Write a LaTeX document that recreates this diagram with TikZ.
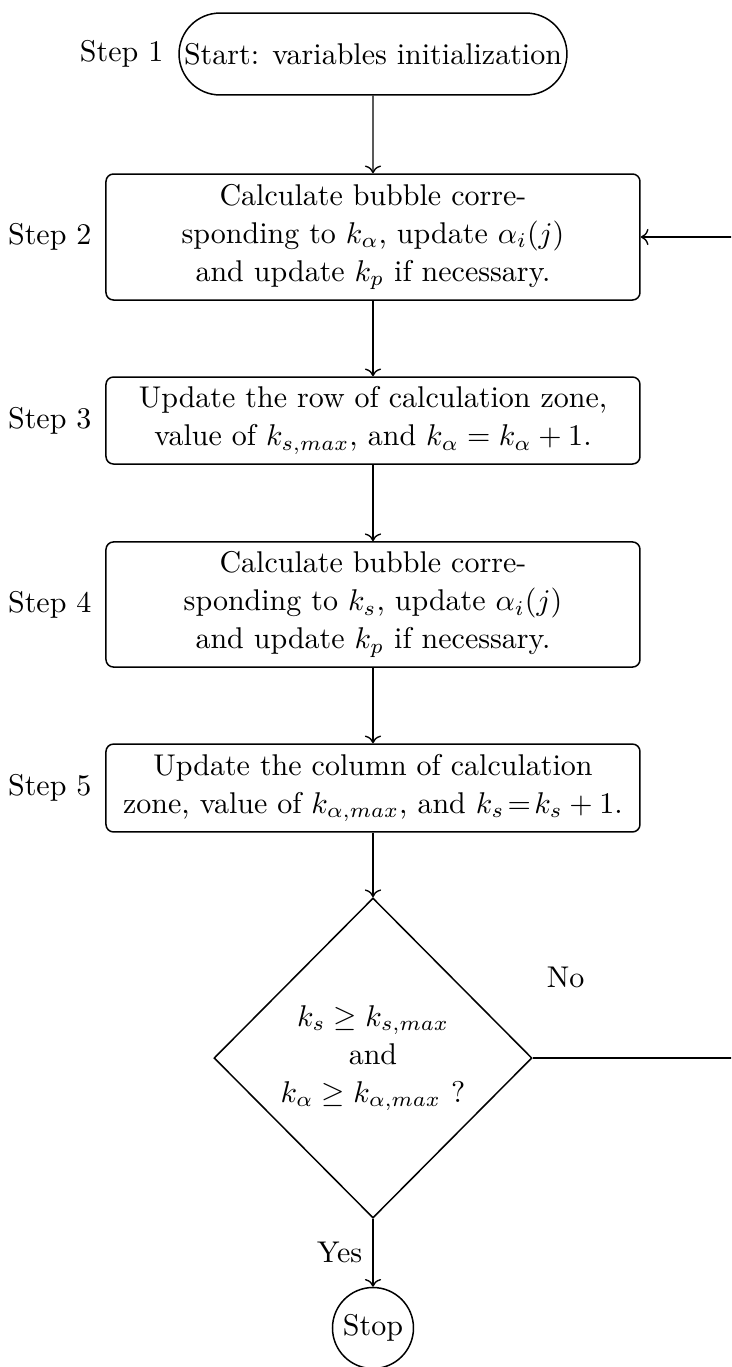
\documentclass[tikz,border=0pt]{standalone}
\usetikzlibrary{shapes.misc,shapes.geometric,arrows.meta,calc}
\begin{document}
\begin{tikzpicture}[
  every node/.style={font=\fontsize{10}{12.67}\selectfont},
  terminal/.style={draw, rounded rectangle, line width=0.5pt, minimum width=133.3pt, minimum height=27.3pt, inner sep=2pt},
  procbox/.style={draw, rectangle, rounded corners=2.5pt, line width=0.5pt, minimum width=178pt, align=center, inner sep=2pt},
  decision/.style={draw, diamond, line width=0.5pt, minimum width=106pt, minimum height=106.7pt, inner sep=0pt, align=center},
  stopnode/.style={draw, circle, line width=0.5pt, minimum size=27pt, inner sep=1pt},
  steplabel/.style={anchor=east, inner sep=0pt},
  flow/.style={->, line width=0.45pt}
]
\useasboundingbox (0,0) rectangle (243.67pt,-455.67pt);
\clip (0,0) rectangle (243.67pt,-455.67pt);

\node[terminal] (start) at (124.33pt,-18pt) {Start: variables initialization};
\node[procbox, minimum height=42pt] (s2) at (124.33pt,-79pt)
  {Calculate bubble corre-\\sponding to $k_\alpha$, update $\alpha_i(j)$\\and update $k_p$ if necessary.};
\node[procbox, minimum height=29pt] (s3) at (124.33pt,-140.17pt)
  {Update the row of calculation zone,\\value of $k_{s,max}$, and $k_\alpha = k_\alpha + 1$.};
\node[procbox, minimum height=41.7pt] (s4) at (124.33pt,-201.5pt)
  {Calculate bubble corre-\\sponding to $k_s$, update $\alpha_i(j)$\\and update $k_p$ if necessary.};
\node[procbox, minimum height=29.3pt] (s5) at (124.33pt,-262.67pt)
  {Update the column of calculation\\zone, value of $k_{\alpha,max}$, and $k_s\!=\!k_s + 1$.};
\node[decision] (dec) at (124.33pt,-352.67pt)
  {$k_s \geq k_{s,max}$\\and\\$k_\alpha \geq k_{\alpha,max}$ ?};
\node[stopnode] (stop) at (124.33pt,-442.67pt) {Stop};

\node[steplabel] (l1) at ([xshift=-4.8pt]start.west) {Step 1};
\node[steplabel] (l2) at ([xshift=-4.4pt]s2.west) {Step 2};
\node[steplabel] (l3) at ([xshift=-4.4pt]s3.west) {Step 3};
\node[steplabel] (l4) at ([xshift=-4.4pt]s4.west) {Step 4};
\node[steplabel] (l5) at ([xshift=-4.4pt]s5.west) {Step 5};

\coordinate (rt) at (246pt,0pt);

\draw[flow] (start) -- (s2);
\draw[flow] (s2) -- (s3);
\draw[flow] (s3) -- (s4);
\draw[flow] (s4) -- (s5);
\draw[flow] (s5) -- (dec);
\draw[flow] (dec) -- node[midway,left] {Yes} (stop);
\draw[flow] (dec.east) -- node[at start, anchor=center, xshift=11pt, yshift=27pt] {No} (rt |- dec.east) -- (rt |- s2.east) -- (s2.east);
\end{tikzpicture}
\end{document}
